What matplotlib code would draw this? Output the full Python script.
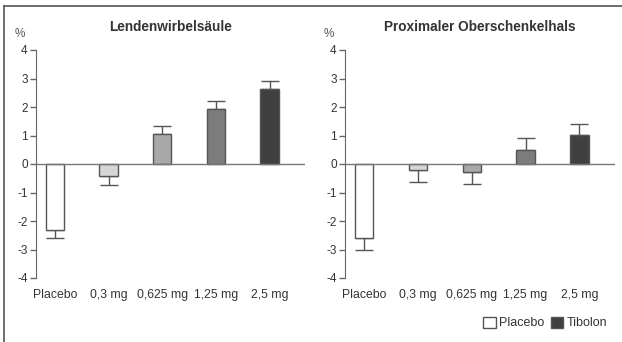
import matplotlib.pyplot as plt
from matplotlib.lines import Line2D
from matplotlib.patches import Patch

plt.rcParams["font.family"] = ["Liberation Sans", "DejaVu Sans"]
plt.rcParams["axes.unicode_minus"] = False

doses = ["Placebo", "0,3 mg", "0,625 mg", "1,25 mg", "2,5 mg"]
lws_mean = [-2.3, -0.42, 1.05, 1.94, 2.62]
lws_err = [0.3, 0.33, 0.27, 0.26, 0.3]
femur_mean = [-2.6, -0.2, -0.28, 0.5, 1.02]
femur_err = [0.42, 0.42, 0.43, 0.42, 0.38]
titles = ["Lendenwirbelsäule", "Proximaler Oberschenkelhals"]
bar_colors = ["white", "#d6d6d6", "#a8a8a8", "#7c7c7c", "#404040"]
edge = "#555555"

fig = plt.figure(figsize=(6.22, 3.42), dpi=100)
ax1 = fig.add_axes([36 / 622, 64 / 342, 269 / 622, 228 / 342])
ax2 = fig.add_axes([345 / 622, 64 / 342, 270 / 622, 228 / 342])

x = range(len(doses))
for ax, means, errs, title in zip(
    [ax1, ax2], [lws_mean, femur_mean], [lws_err, femur_err], titles
):
    ax.bar(x, means, width=0.34, color=bar_colors, edgecolor=edge,
           linewidth=1.0, zorder=3)
    # one-sided error bars pointing away from zero
    for xi, m, e in zip(x, means, errs):
        sign = 1 if m >= 0 else -1
        ax.errorbar(xi, m, yerr=[[e if sign < 0 else 0], [e if sign > 0 else 0]],
                    fmt="none", ecolor=edge, elinewidth=1.0, capsize=6.5,
                    capthick=1.0, zorder=2)
    ax.axhline(0, color="#777777", linewidth=1.0, zorder=4)
    ax.set_ylim(-4, 4)
    ax.set_xlim(-0.353, 4.66)
    ax.set_yticks(range(-4, 5))
    ax.set_xticks(list(x))
    ax.set_xticklabels(doses, fontsize=8.8, color="#333333")
    ax.tick_params(axis="x", length=0, pad=8)
    ax.tick_params(axis="y", length=4, width=1.0, color="#666666",
                   labelsize=8.5, labelcolor="#333333", pad=2)
    for s in ["top", "right", "bottom"]:
        ax.spines[s].set_visible(False)
    ax.spines["left"].set_color("#666666")
    ax.set_title(title, fontsize=9.8, fontweight="bold", color="#333333", pad=14)
    ax.text(-0.06, 1.07, "%", transform=ax.transAxes, fontsize=8.5,
            color="#555555", ha="center", va="center")

# frame lines at top and left of the picture
fig.add_artist(Line2D([4 / 622, 4 / 622], [0, 1 - 6 / 342], color="#555555",
                      linewidth=1.2))
fig.add_artist(Line2D([4 / 622, 1], [1 - 6 / 342, 1 - 6 / 342],
                      color="#555555", linewidth=1.2))

handles = [Patch(facecolor="white", edgecolor=edge, label="Placebo"),
           Patch(facecolor="#404040", edgecolor=edge, label="Tibolon")]
fig.legend(handles=handles, loc="center right", bbox_to_anchor=(0.995, 1 - 323 / 342),
           ncol=2, frameon=False, fontsize=9, handlelength=1.0,
           handleheight=1.0, handletextpad=0.3, columnspacing=0.5,
           labelcolor="#333333")

fig.savefig("out.png", dpi=100)
